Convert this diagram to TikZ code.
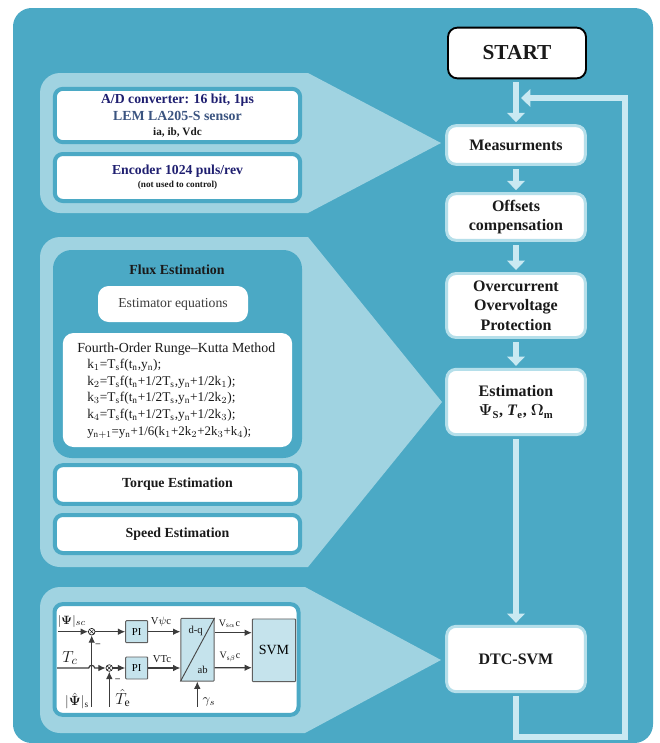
\documentclass[tikz,border=0pt]{standalone}
\usepackage{amsmath}
\usepackage{fontspec}
\setmainfont{Liberation Serif}
\usetikzlibrary{arrows.meta,calc}
\definecolor{teal1}{HTML}{4BA9C5}
\definecolor{panelc}{HTML}{A0D3E1}
\definecolor{flow}{HTML}{C9E9F2}
\definecolor{edgec}{HTML}{B5DFEA}
\definecolor{navy}{HTML}{1F1F70}
\definecolor{slate}{HTML}{3B5480}
\definecolor{blockc}{HTML}{C5E3EC}
\definecolor{ink}{HTML}{1A1A1A}
\tikzset{
  stepbox/.style={draw=edgec,line width=2.2pt,fill=white,rounded corners=7pt,align=center,text=ink,font=\fontsize{12}{14.5}\selectfont\bfseries,inner sep=0pt,minimum width=104pt},
  sidebox/.style={draw=teal1,line width=3pt,fill=white,rounded corners=6pt,inner sep=0pt,align=center},
  whitebox/.style={fill=white,rounded corners=8pt,inner sep=0pt,align=center},
  panel/.style={fill=panelc,draw=none},
  flowline/.style={draw=flow,line width=5pt},
  flowarrow/.style={flowline,shorten >=1.5pt,-{Triangle[length=7pt,width=13pt]}},
  sig/.style={draw=ink!85,line width=0.9pt},
  sigarrow/.style={sig,-{Latex[length=5.5pt,width=5pt]}},
  block/.style={draw=ink!70,line width=0.7pt,fill=blockc,inner sep=0pt,rounded corners=0.6pt},
  sumj/.style={circle,draw=ink,line width=0.5pt,minimum size=5pt,inner sep=0pt,fill=white,path picture={\draw[line width=0.35pt] (path picture bounding box.north west)--(path picture bounding box.south east) (path picture bounding box.north east)--(path picture bounding box.south west);}},
  lab/.style={inner sep=0pt,text=ink},
  rkline/.style={lab,anchor=base west,font=\fontsize{10}{12}\selectfont}
}
\begin{document}
\begin{tikzpicture}[x=0.75pt,y=-0.75pt]
\useasboundingbox (0,0) rectangle (660,743);
\fill[white] (0,0) rectangle (660,743);
\begin{scope}
\clip (0,0) rectangle (660,743);
\fill[teal1,rounded corners=14pt] (13,8) rectangle (653,743);
% side panels
\fill[panel] (441,143) -- (308,213) [rounded corners=15pt] -- (40,213) -- (40,73) [sharp corners] -- (308,73) -- cycle;
\fill[panel] (442,402) -- (308,567) [rounded corners=15pt] -- (40,567) -- (40,237) [sharp corners] -- (308,237) -- cycle;
\fill[panel] (441,660) -- (305,733) [rounded corners=15pt] -- (40,733) -- (40,587) [sharp corners] -- (305,587) -- cycle;
% flow nodes
\node[draw=black,line width=1.4pt,fill=white,rounded corners=7pt,minimum width=103.5pt,minimum height=38pt,font=\fontsize{16}{18}\selectfont\bfseries,text=ink,inner sep=0pt] (start) at (517,53) {START};
\node[stepbox,minimum height=29pt] (meas) at (516,145) {Measurments};
\node[stepbox,minimum height=35pt] (offs) at (516,217) {Offsets\\compensation};
\node[stepbox,minimum height=48pt] (over) at (516,305.5) {Overcurrent\\Overvoltage\\Protection};
\node[stepbox,minimum height=49pt] (esti) at (516,402) {Estimation\\$\boldsymbol{\Psi}_{\mathbf{S}}$, \textit{T}$_{\mathbf{e}}$, $\boldsymbol{\Omega}_{\mathbf{m}}$};
\node[stepbox,minimum height=49pt] (dtc) at (516,659) {DTC-SVM};
% connectors
\coordinate (fbB) at (625,736.5);
\coordinate (fbC) at (625,98);
\coordinate (fbD) at (519,98);
\draw[flowarrow] ($(meas.north |- start.south)+(0,3)$) -- (meas.north);
\draw[flowarrow] ($(meas.south)+(0,3)$) -- (offs.north);
\draw[flowarrow] ($(offs.south)+(0,3)$) -- (over.north);
\draw[flowarrow] ($(over.south)+(0,3)$) -- (esti.north);
\draw[flowarrow] ($(esti.south)+(0,3)$) -- (dtc.north);
\draw[flowarrow,line width=4.5pt,line join=miter] ($(dtc.south)+(0,3)$) |- (fbB) -- (fbC) -- (fbD);
% top side boxes
\node[sidebox,minimum width=184pt,minimum height=40pt] (adc) at (177.5,115.5) {%
  {\fontsize{10.3}{12}\selectfont\bfseries\color{navy} A/D converter: 16 bit, 1µs}\\[0.6pt]
  {\fontsize{10.4}{12}\selectfont\bfseries\color{slate} LEM LA205-S sensor}\\[-0.6pt]
  {\fontsize{8.4}{10}\selectfont\bfseries\color{ink} ia, ib, Vdc}};
\node[sidebox,minimum width=184pt,minimum height=35.25pt] (enc) at (177.5,177.5) {%
  {\fontsize{10.3}{12}\selectfont\bfseries\color{navy} Encoder 1024 puls/rev}\\[-2.5pt]
  {\fontsize{6.9}{9}\selectfont\bfseries\color{ink} (not used to control)}};
% flux group
\fill[teal1,rounded corners=14pt] (53,250) rectangle (302,458);
\node[lab,font=\fontsize{10.4}{11}\selectfont\bfseries] (flux) at (177,270) {Flux Estimation};
\node[whitebox,minimum width=112.5pt,minimum height=27pt,font=\fontsize{10.3}{11}\selectfont,text=ink!85] (estq) at (173,304) {Estimator equations};
\node[whitebox,minimum width=172pt,minimum height=85.5pt] (rk) at (177.5,390) {};
\node[rkline,font=\fontsize{10.4}{12}\selectfont] (rk0) at (77,352) {Fourth-Order Runge–Kutta Method};
\node[rkline] (rk1) at (87,368) {k$_1$=T$_{\mathrm{s}}$f(t$_{\mathrm{n}}$,y$_{\mathrm{n}}$);};
\node[rkline] (rk2) at (87,385) {k$_2$=T$_{\mathrm{s}}$f(t$_{\mathrm{n}}$+1/2T$_{\mathrm{s}}$,y$_{\mathrm{n}}$+1/2k$_1$);};
\node[rkline] (rk3) at (87,401) {k$_3$=T$_{\mathrm{s}}$f(t$_{\mathrm{n}}$+1/2T$_{\mathrm{s}}$,y$_{\mathrm{n}}$+1/2k$_2$);};
\node[rkline] (rk4) at (87,418) {k$_4$=T$_{\mathrm{s}}$f(t$_{\mathrm{n}}$+1/2T$_{\mathrm{s}}$,y$_{\mathrm{n}}$+1/2k$_3$);};
\node[rkline,font=\fontsize{9.7}{12}\selectfont] (rk5) at (87,435) {y$_{\mathrm{n+1}}$=y$_{\mathrm{n}}$+1/6(k$_1$+2k$_2$+2k$_3$+k$_4$);};
\node[sidebox,minimum width=184pt,minimum height=29pt,font=\fontsize{10.4}{11}\selectfont\bfseries,text=ink] (torq) at (177.5,484.5) {Torque Estimation};
\node[sidebox,minimum width=184pt,minimum height=28.5pt,font=\fontsize{10.4}{11}\selectfont\bfseries,text=ink] (spd) at (177.5,534) {Speed Estimation};
% SVM group
\node[sidebox,minimum width=183pt,minimum height=83pt] (frame) at (176.5,659.5) {};
\node[block,minimum width=16.5pt,minimum height=16.5pt,font=\fontsize{8}{9}\selectfont] (pi1) at (136.7,631.7) {PI};
\node[block,minimum width=16.5pt,minimum height=16.5pt,font=\fontsize{8}{9}\selectfont] (pi2) at (136.7,668) {PI};
\node[block,minimum width=25pt,minimum height=47pt] (dq) at (197.5,649.7) {};
\draw[ink!80,line width=0.7pt] (dq.south west) -- (dq.north east);
\node[lab,font=\fontsize{8}{9}\selectfont] (dqt) at (195.7,630.7) {d-q};
\node[lab,font=\fontsize{8}{9}\selectfont] (abt) at (202.7,670) {ab};
\node[block,minimum width=32.5pt,minimum height=47pt,font=\fontsize{10.5}{13}\selectfont] (svm) at (274,650.3) {SVM};
\node[sumj] (s1) at (91.7,631.7) {};
\node[sumj] (s2) at (109.3,668) {};
\coordinate (in1) at (58,631.7);
\coordinate (in2) at (57,668);
\coordinate (hopA) at (88.7,668);
\coordinate (hopB) at (94.7,668);
\coordinate (fb1) at (91.7,706.7);
\coordinate (fb2) at (109.3,706.7);
\coordinate (gam) at (197.3,706.7);
\draw[sigarrow] (in1) -- (s1);
\draw[sigarrow] (s1) -- (pi1);
\draw[sigarrow] (pi1) -- (dq.west |- pi1);
\draw[sigarrow] (in2) -- (hopA) .. controls (89,664.5) and (94.4,664.5) .. (hopB) -- (s2);
\draw[sigarrow] (s2) -- (pi2);
\draw[sigarrow] (pi2) -- (dq.west |- pi2);
\draw[sigarrow] (fb1) -- (s1);
\draw[sigarrow] (fb2) -- (s2);
\draw[sigarrow] (gam) -- (dq.south -| gam);
\draw[sigarrow] ($(dq.east)+(0,-17)$) -- ($(svm.west)+(0,-17.6)$);
\draw[sigarrow] ($(dq.east)+(0,18)$) -- ($(svm.west)+(0,17.4)$);
\node[lab,font=\fontsize{9.5}{11}\selectfont] (l1) at (72,621.5) {$|\boldsymbol{\Psi}|_{sc}$};
\node[lab,font=\fontsize{12.5}{14}\selectfont] (l2) at (70,658) {$T_c$};
\node[lab,font=\fontsize{10}{11}\selectfont] (l3) at (77,701) {$|\hat{\boldsymbol{\Psi}}|_{\mathrm{s}}$};
\node[lab,font=\fontsize{12.5}{14}\selectfont] (l4) at (123,698) {$\hat{T}_{\mathrm{e}}$};
\node[lab,font=\fontsize{10}{11}\selectfont] (l5) at (209,702) {$\gamma_s$};
\node[lab,font=\fontsize{8}{9}\selectfont] (l6) at (161,622) {V$\psi$c};
\node[lab,font=\fontsize{8}{9}\selectfont] (l7) at (162,659) {VTc};
\node[lab,font=\fontsize{7.5}{9}\selectfont] (l8) at (229.5,624) {V$_{\mathrm{s}\alpha}$c};
\node[lab,font=\fontsize{7.5}{9}\selectfont] (l9) at (230,657) {V$_{\mathrm{s}\beta}$c};
\node[lab,font=\fontsize{7}{9}\selectfont\bfseries] (m1) at (98,645) {--};
\node[lab,font=\fontsize{7}{9}\selectfont\bfseries] (m2) at (117.7,680) {--};
\end{scope}
\end{tikzpicture}
\end{document}
